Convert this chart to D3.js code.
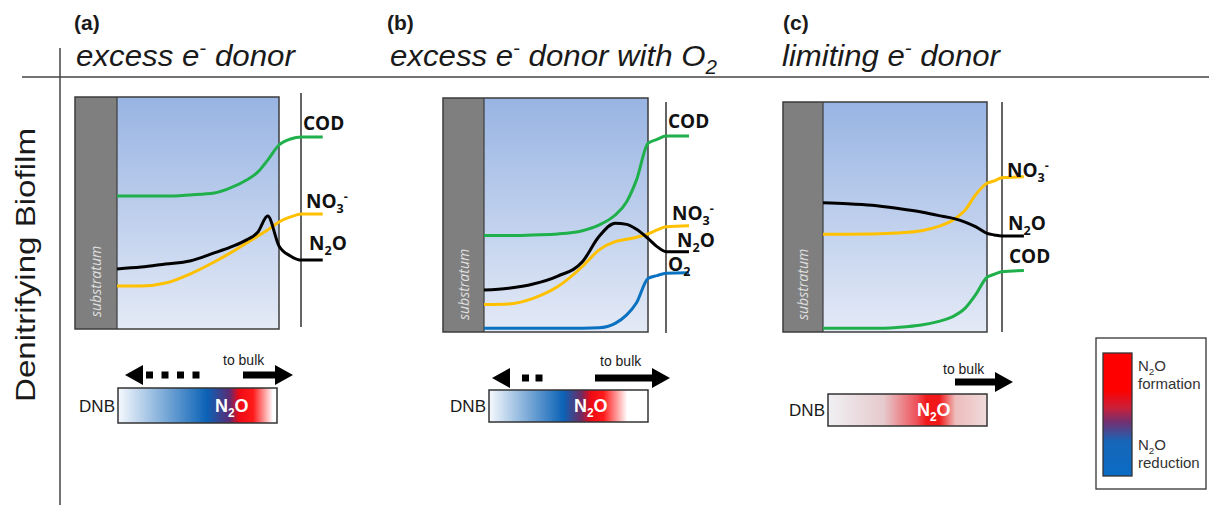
<!DOCTYPE html>
<html lang="en">
<head>
<meta charset="UTF-8">
<title>Denitrifying biofilm N2O profiles</title>
<script src="https://d3js.org/d3.v7.min.js"></script>
<style>
  body { margin: 0; background: #fff; }
  svg { display: block; }
</style>
</head>
<body>
<svg width="1209" height="505"></svg>
<script>
// ---- data: depth (0 = substratum, 1 = biofilm surface, >1 = boundary layer) ----
const panelKeys = ["a", "b", "c"];
const panelTitles = [
  [["excess e", null], ["-", "sup"], [" donor", null]],
  [["excess e", null], ["-", "sup"], [" donor with O", null], ["2", "sub"]],
  [["limiting  e", null], ["-", "sup"], [" donor", null]]
];
const depthA = [0, 0.15, 0.3, 0.45, 0.6, 0.7, 0.8, 0.87, 0.93, 1.0, 1.07, 1.14, 1.27];
const depthB = [0, 0.15, 0.3, 0.45, 0.6, 0.7, 0.8, 0.87, 0.93, 1.0, 1.055, 1.11, 1.25];
const depthC = [0, 0.15, 0.3, 0.45, 0.6, 0.7, 0.8, 0.87, 0.93, 1.0, 1.045, 1.09, 1.225];

// concentrations, % of box height
const codA = [57.3, 57.3, 57.3, 57.8, 58.6, 60.8, 64.2, 67.7, 72.8, 79.3, 81.9, 82.8, 82.8];
const no3A = [18.5, 18.5, 19.8, 23.7, 28.9, 32.8, 37.1, 40.1, 42.7, 46.1, 48.3, 49.6, 49.6];
const n2oA = [25.9, 26.7, 28.0, 29.3, 32.8, 35.3, 38.4, 41.8, 48.7, 35.8, 31.5, 29.7, 29.7];

const codB = [41.2, 41.2, 41.5, 41.9, 43.3, 45.7, 50.0, 55.7, 65.0, 80.6, 82.3, 83.8, 83.8];
const no3B = [11.8, 12.0, 14.4, 19.4, 28.0, 35.0, 38.6, 39.6, 40.5, 41.9, 43.6, 45.0, 45.4];
const n2oB = [17.9, 18.7, 20.5, 23.9, 30.0, 40.7, 46.5, 46.0, 43.9, 40.0, 36.5, 34.3, 34.3];
const o2B  = [1.6, 1.6, 1.6, 1.6, 1.6, 1.8, 3.7, 7.3, 12.5, 22.9, 24.1, 25.1, 25.3];

const no3C = [42.5, 42.5, 42.6, 43.0, 44.0, 45.8, 49.0, 53.3, 59.6, 64.7, 65.7, 67.1, 67.5];
const n2oC = [56.2, 55.8, 55.1, 53.8, 52.2, 50.7, 49.3, 47.7, 45.8, 42.9, 42.2, 41.7, 41.7];
const codC = [1.6, 1.6, 1.6, 2.0, 3.0, 4.5, 7.0, 10.6, 16.1, 23.8, 25.1, 26.2, 26.7];

const dashCounts = [4, 2, 0];
const legendLabels = [["formation"], ["reduction"]];

// ---- layout ----
const colors = { COD: "#1fb04c", NO3: "#ffc000", N2O: "#000000", O2: "#0b72c2" };
const svg = d3.select("svg");
const ink = "#1a1a1a";

svg.append("line").attr("x1", 22).attr("x2", 1209).attr("y1", 77).attr("y2", 77)
  .attr("stroke", "#444").attr("stroke-width", 1.5);
svg.append("line").attr("x1", 60).attr("x2", 60).attr("y1", 48).attr("y2", 505)
  .attr("stroke", "#444").attr("stroke-width", 1.5);

svg.append("text")
  .attr("transform", "translate(35,265) rotate(-90)")
  .attr("text-anchor", "middle")
  .attr("font-family", "Liberation Sans, Arial, sans-serif")
  .attr("font-size", 28).attr("fill", ink)
  .attr("textLength", 274).attr("lengthAdjust", "spacingAndGlyphs")
  .text("Denitrifying Biofilm");

function chem(g, x, y, parts, fs, attrs) {
  const t = g.append("text").attr("x", x).attr("y", y).attr("font-size", fs);
  Object.entries(attrs || {}).forEach(([k, v]) => t.attr(k, v));
  let shift = 0;
  parts.forEach(([s, mode]) => {
    const target = mode === "sub" ? fs * 0.28 : mode === "sup" ? -fs * 0.38 : 0;
    t.append("tspan").attr("dy", target - shift)
      .attr("font-size", mode ? fs * 0.66 : fs).text(s);
    shift = target;
  });
  return t;
}

const defs = svg.append("defs");
const bioGrad = defs.append("linearGradient").attr("id", "bio")
  .attr("x1", 0).attr("y1", 0).attr("x2", 0).attr("y2", 1);
bioGrad.append("stop").attr("offset", 0).attr("stop-color", "#98b4e3");
bioGrad.append("stop").attr("offset", 1).attr("stop-color", "#e4eaf6");

const dnbStops = [
  [[0, "#f6f9fd"], [0.56, "#0b62b6"], [0.7, "#5a2c74"], [0.76, "#ee0a14"], [0.85, "#ff1a1a"], [0.975, "#ffffff"], [1, "#ffffff"]],
  [[0, "#f6f9fd"], [0.47, "#0b62b6"], [0.58, "#702a62"], [0.64, "#ee0a14"], [0.72, "#ff1a1a"], [0.87, "#ffffff"], [1, "#ffffff"]],
  [[0, "#f0f0f4"], [0.35, "#e6cacd"], [0.56, "#ee5058"], [0.62, "#f01818"], [0.7, "#f01818"], [0.8, "#eebcbc"], [1, "#efdada"]]
];
dnbStops.forEach((stops, i) => {
  const gr = defs.append("linearGradient").attr("id", "dnb" + i);
  stops.forEach(([o, c]) => gr.append("stop").attr("offset", o).attr("stop-color", c));
});

const panels = [
  { sx: 75, bx: 117, right: 279, top: 97, bottom: 329, bulk: 301, bulkTop: 93, bulkBottom: 327,
    depth: depthA,
    series: [
      { key: "COD", values: codA, label: [["COD", null]], lx: 303, ly: 130 },
      { key: "NO3", values: no3A, label: [["NO", null], ["3", "sub"], ["-", "sup"]], lx: 306, ly: 208 },
      { key: "N2O", values: n2oA, label: [["N", null], ["2", "sub"], ["O", null]], lx: 309, ly: 250 }
    ],
    hx: 74, tx: 76, tw: 219,
    dnb: { x: 118, y: 388, w: 159, h: 35, n2o: 233 },
    arrowY: 375, left: { tip: 125, dashStart: 146, step: 15.5 }, rArrow: { x1: 243, x2: 293 }, bulkText: { x: 223, y: 365 } },
  { sx: 443, bx: 484, right: 648, top: 98, bottom: 332, bulk: 666, bulkTop: 102, bulkBottom: 333,
    depth: depthB,
    series: [
      { key: "COD", values: codB, label: [["COD", null]], lx: 668, ly: 128 },
      { key: "NO3", values: no3B, label: [["NO", null], ["3", "sub"], ["-", "sup"]], lx: 672, ly: 220 },
      { key: "N2O", values: n2oB, label: [["N", null], ["2", "sub"], ["O", null]], lx: 677, ly: 247 },
      { key: "O2", values: o2B, label: [["O", null], ["2", "sub"]], lx: 668, ly: 271 }
    ],
    hx: 387, tx: 390, tw: 327,
    dnb: { x: 489, y: 390, w: 159, h: 32, n2o: 592 },
    arrowY: 378, left: { tip: 492, dashStart: 522, step: 13.5 }, rArrow: { x1: 595, x2: 670 }, bulkText: { x: 600, y: 366 } },
  { sx: 783, bx: 823, right: 987, top: 102, bottom: 332, bulk: 1002, bulkTop: 102, bulkBottom: 332,
    depth: depthC,
    series: [
      { key: "NO3", values: no3C, label: [["NO", null], ["3", "sub"], ["-", "sup"]], lx: 1007, ly: 177 },
      { key: "N2O", values: n2oC, label: [["N", null], ["2", "sub"], ["O", null]], lx: 1008, ly: 230 },
      { key: "COD", values: codC, label: [["COD", null]], lx: 1009, ly: 263 }
    ],
    hx: 783, tx: 782, tw: 218,
    dnb: { x: 828, y: 394, w: 159, h: 32, n2o: 935 },
    arrowY: 382, left: null, rArrow: { x1: 955, x2: 1013 }, bulkText: { x: 943, y: 374 } }
];

panels.forEach((p, i) => {
  const g = svg.append("g");

  // headers
  g.append("text").attr("x", p.hx).attr("y", 30)
    .attr("font-family", "Liberation Sans, Arial, sans-serif").attr("font-weight", "bold")
    .attr("font-size", 21).attr("fill", ink).text("(" + panelKeys[i] + ")");
  const title = chem(g, p.tx, 66, panelTitles[i], 30, {
    "font-family": "Liberation Sans, Arial, sans-serif", "font-style": "italic", fill: ink
  });
  // fit title to its measured width
  const bw = title.node().getComputedTextLength();
  title.attr("transform", `translate(${p.tx},0) scale(${p.tw / bw},1) translate(${-p.tx},0)`);

  const x = d3.scaleLinear().domain([0, 1]).range([p.bx, p.right]);
  const y = d3.scaleLinear().domain([0, 100]).range([p.bottom, p.top]);

  g.append("rect").attr("x", p.bx).attr("y", p.top).attr("width", p.right - p.bx)
    .attr("height", p.bottom - p.top).attr("fill", "url(#bio)");
  g.append("rect").attr("x", p.sx).attr("y", p.top).attr("width", p.bx - p.sx)
    .attr("height", p.bottom - p.top).attr("fill", "#7f7f7f");
  g.append("rect").attr("x", p.sx).attr("y", p.top).attr("width", p.right - p.sx)
    .attr("height", p.bottom - p.top).attr("fill", "none").attr("stroke", "#3c3c3c").attr("stroke-width", 1.5);
  g.append("line").attr("x1", p.bx).attr("x2", p.bx).attr("y1", p.top).attr("y2", p.bottom)
    .attr("stroke", "#3c3c3c").attr("stroke-width", 1.2);

  g.append("text")
    .attr("transform", `translate(${(p.sx + p.bx) / 2 + 5},${p.bottom - 12}) rotate(-90)`)
    .attr("font-family", "Open Sans, sans-serif").attr("font-style", "italic")
    .attr("font-size", 14).attr("fill", "#e0e0e0").text("substratum");

  g.append("line").attr("x1", p.bulk).attr("x2", p.bulk).attr("y1", p.bulkTop).attr("y2", p.bulkBottom)
    .attr("stroke", "#111").attr("stroke-width", 1.3);

  const line = d3.line().x(d => x(d[0])).y(d => y(d[1])).curve(d3.curveMonotoneX);
  p.series.forEach(s => {
    g.append("path").datum(p.depth.map((d, k) => [d, s.values[k]]))
      .attr("d", line).attr("fill", "none").attr("stroke", colors[s.key])
      .attr("stroke-width", 3).attr("stroke-linecap", "butt");
  });
  p.series.forEach(s => {
    chem(g, s.lx, s.ly, s.label, 19, {
      "font-family": "Open Sans, sans-serif", "font-weight": "bold", fill: "#111"
    });
  });

  // DNB bar
  const dn = p.dnb;
  g.append("rect").attr("x", dn.x).attr("y", dn.y).attr("width", dn.w).attr("height", dn.h)
    .attr("fill", `url(#dnb${i})`).attr("stroke", "#333").attr("stroke-width", 1.5);
  g.append("text").attr("x", dn.x - 3).attr("y", dn.y + dn.h / 2 + 6)
    .attr("text-anchor", "end").attr("font-family", "Liberation Sans, Arial, sans-serif")
    .attr("font-size", 17).attr("fill", ink).text("DNB");
  chem(g, dn.n2o - 18, dn.y + dn.h / 2 + 6, [["N", null], ["2", "sub"], ["O", null]], 18, {
    "font-family": "Liberation Sans, Arial, sans-serif", "font-weight": "bold", fill: "#fff"
  });

  // arrows
  const ay = p.arrowY;
  const head = 18, hh = 10, sh = 3.5;
  const r = p.rArrow;
  g.append("path").attr("fill", "#000").attr("d",
    `M${r.x1},${ay - sh}L${r.x2 - head},${ay - sh}L${r.x2 - head},${ay - hh}L${r.x2},${ay}` +
    `L${r.x2 - head},${ay + hh}L${r.x2 - head},${ay + sh}L${r.x1},${ay + sh}Z`);
  if (p.left) {
    const l = p.left;
    g.append("path").attr("fill", "#000").attr("d",
      `M${l.tip},${ay}L${l.tip + head},${ay - hh}L${l.tip + head},${ay + hh}Z`);
    g.selectAll(null).data(d3.range(dashCounts[i])).enter().append("rect")
      .attr("x", k => l.dashStart + k * l.step).attr("y", ay - sh)
      .attr("width", 7).attr("height", 7).attr("fill", "#000");
  }
  g.append("text").attr("x", p.bulkText.x).attr("y", p.bulkText.y)
    .attr("font-family", "Liberation Sans, Arial, sans-serif").attr("font-size", 14)
    .attr("fill", ink).text("to bulk");
});

// legend
const lg = svg.append("g");
const legGrad = defs.append("linearGradient").attr("id", "leg")
  .attr("x1", 0).attr("y1", 0).attr("x2", 0).attr("y2", 1);
[[0, "#ff0000"], [0.3, "#ff0000"], [0.45, "#c8203a"], [0.56, "#733070"], [0.72, "#1666b8"], [1, "#0a6cc4"]]
  .forEach(([o, c]) => legGrad.append("stop").attr("offset", o).attr("stop-color", c));
lg.append("rect").attr("x", 1096).attr("y", 338).attr("width", 110).attr("height", 151)
  .attr("fill", "#fff").attr("stroke", "#333").attr("stroke-width", 1.3);
lg.append("rect").attr("x", 1103).attr("y", 353).attr("width", 29).attr("height", 123)
  .attr("fill", "url(#leg)").attr("stroke", "#333").attr("stroke-width", 1.3);
const legY = [371, 450];
legendLabels.forEach((lbl, k) => {
  chem(lg, 1138, legY[k], [["N", null], ["2", "sub"], ["O", null]], 15, {
    "font-family": "Liberation Sans, Arial, sans-serif", fill: "#333"
  });
  lg.append("text").attr("x", 1138).attr("y", legY[k] + 18)
    .attr("font-family", "Liberation Sans, Arial, sans-serif").attr("font-size", 15)
    .attr("fill", "#333").text(lbl[0]);
});
</script>
</body>
</html>
